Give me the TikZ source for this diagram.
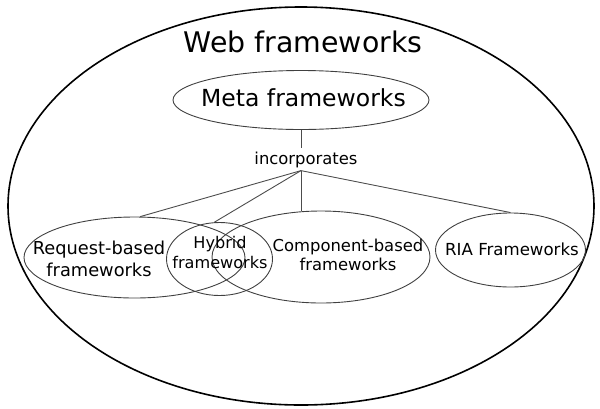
\documentclass[tikz,border=0pt]{standalone}
\usepackage{fontspec}
\setmainfont{DejaVu Sans}
\usetikzlibrary{shapes.geometric}
\begin{document}
\begin{tikzpicture}[x=1pt, y=-1pt,
  bubble/.style={ellipse, draw=black!75, line width=0.9pt, inner sep=0pt},
  link/.style={draw=black!70, line width=0.9pt},
  lbl/.style={font=\fontsize{16.4}{19.3}\selectfont, align=center, inner sep=0pt}]
  \useasboundingbox (0,0) rectangle (600,408);
  % outer frame
  \node[ellipse, draw, line width=1.6pt, minimum width=586pt, minimum height=398pt] (web) at (301,206) {};
  \node[anchor=base, inner sep=0pt, font=\fontsize{28.4}{32}\selectfont] (title) at (303,52) {Web frameworks};
  % the ellipses
  \node[bubble, minimum width=256pt, minimum height=59pt] (meta) at (301,100) {};
  \node[bubble, minimum width=221pt, minimum height=81pt] (request) at (134.5,257.5) {};
  \node[bubble, minimum width=106pt, minimum height=73pt] (hybrid) at (219.5,259) {};
  \node[bubble, minimum width=218pt, minimum height=92pt] (component) at (321,257) {};
  \node[bubble, minimum width=150pt, minimum height=74pt] (ria) at (510.5,250) {};
  % their texts
  \node[anchor=base, inner sep=0pt, font=\fontsize{23.5}{28}\selectfont] (metatext) at (303.5,106) {Meta frameworks};
  \node[lbl, font=\fontsize{17.8}{22}\selectfont] (requesttext) at (99,259.3) {Request-based\\frameworks};
  \node[lbl, font=\fontsize{16.1}{19.3}\selectfont] (hybridtext) at (220,252.6) {Hybrid\\frameworks};
  \node[lbl] (componenttext) at (348,255) {Component-based\\frameworks};
  \node[lbl, font=\fontsize{16.6}{19}\selectfont] (riatext) at (512,249.7) {RIA Frameworks};
  % connectors
  \node[lbl, anchor=base, inner sep=3pt] (inc) at (306,164) {incorporates};
  \coordinate (hub) at (meta.south |- inc.south);
  \draw[link] (meta.south) -- (meta.south |- inc.north);
  \draw[link] (hub) -- (request.82);
  \draw[link] (hub) -- (hybrid.98);
  \draw[link] (hub) -- (hub |- component.north);
  \draw[link] (hub) -- (ria.north);
\end{tikzpicture}
\end{document}
